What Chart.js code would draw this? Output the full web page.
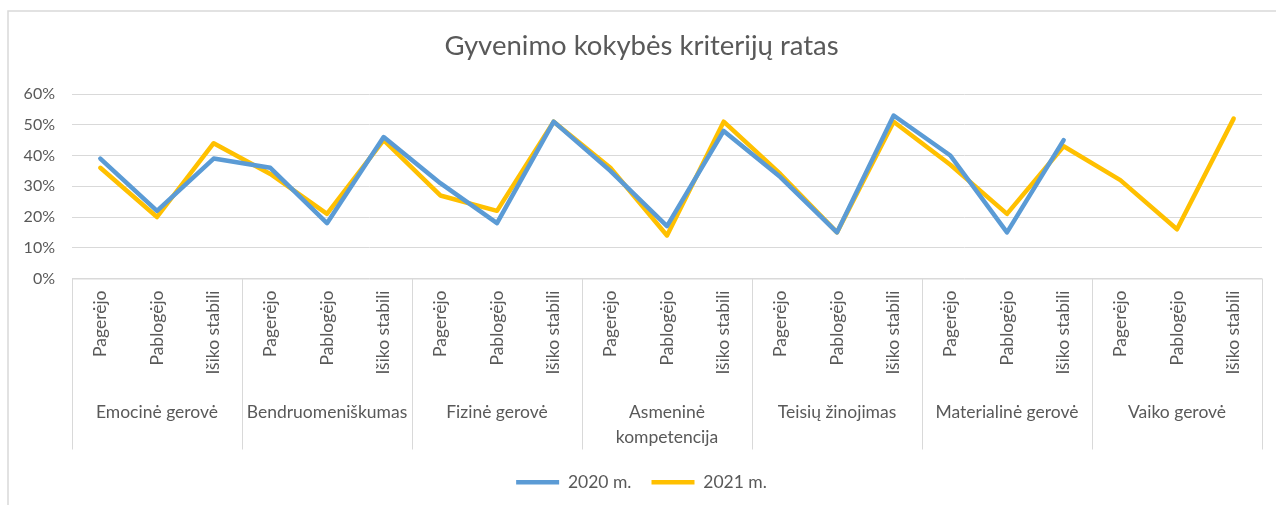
<!DOCTYPE html>
<html>
<head>
<meta charset="utf-8">
<script src="https://cdn.jsdelivr.net/npm/chart.js@4.4.1/dist/chart.umd.min.js"></script>
<style>
    body { margin: 0; background: #fff; }
    #wrap { position: relative; width: 1276px; height: 505px; }
</style>
</head>
<body>
<div id="wrap"><canvas id="chart" width="1276" height="505"></canvas></div>
<script>
// Category axis: groups and sub-categories
const groups = ['Emocinė gerovė', 'Bendruomeniškumas', 'Fizinė gerovė', 'Asmeninė kompetencija',
    'Teisių žinojimas', 'Materialinė gerovė', 'Vaiko gerovė'];
const subLabels = ['Pagerėjo', 'Pablogėjo', 'Išiko stabili'];

// Series values (%)
const values2020 = [39, 22, 39, 36, 18, 46, 31, 18, 51, 35, 17, 48, 33, 15, 53, 40, 15, 45, null, null, null];
const values2021 = [36, 20, 44, 34, 21, 45, 27, 22, 51, 36, 14, 51, 34, 15, 51, 37, 21, 43, 32, 16, 52];

// Y ticks
const yTicks = [0, 10, 20, 30, 40, 50, 60];

const FONT = 'Lato, "Open Sans", sans-serif';
const TEXT_COLOR = '#595959';
const LINE_COLOR = '#D9D9D9';

// Full list of category labels (21)
const labels = [];
groups.forEach(() => subLabels.forEach(s => labels.push(s)));

// Plugin: outer border, axis line, group separators and group labels
const multiLevelAxis = {
    id: 'multiLevelAxis',
    beforeDraw(chart) {
        const ctx = chart.ctx;
        ctx.save();
        ctx.strokeStyle = LINE_COLOR;
        ctx.lineWidth = 1.5;
        ctx.beginPath();
        ctx.moveTo(8, chart.height);
        ctx.lineTo(8, 11);
        ctx.lineTo(chart.width, 11);
        ctx.stroke();
        ctx.restore();
    },
    afterDraw(chart) {
        const ctx = chart.ctx;
        const x = chart.scales.x;
        const area = chart.chartArea;
        const step = (area.right - area.left) / groups.length;

        ctx.save();
        ctx.strokeStyle = LINE_COLOR;
        ctx.lineWidth = 1;
        ctx.beginPath();
        ctx.moveTo(area.left, area.bottom + 0.5);
        ctx.lineTo(area.right, area.bottom + 0.5);
        for (let g = 0; g <= groups.length; g++) {
            const px = Math.round(area.left + g * step) + 0.5;
            ctx.moveTo(px, area.bottom);
            ctx.lineTo(px, area.bottom + 171);
        }
        ctx.stroke();

        ctx.fillStyle = TEXT_COLOR;
        ctx.font = '17.5px ' + FONT;
        ctx.textAlign = 'center';
        ctx.textBaseline = 'middle';
        groups.forEach((name, g) => {
            const cx = (x.getPixelForValue(g * 3) + x.getPixelForValue(g * 3 + 2)) / 2;
            // wrap if too wide for the group cell
            const lines = [];
            const words = name.split(' ');
            let cur = '';
            words.forEach(w => {
                const test = cur ? cur + ' ' + w : w;
                if (ctx.measureText(test).width > step - 2 && cur) {
                    lines.push(cur);
                    cur = w;
                } else {
                    cur = test;
                }
            });
            lines.push(cur);
            lines.forEach((ln, i) => ctx.fillText(ln, cx, area.bottom + 134 + i * 25));
        });
        ctx.restore();
    }
};

const ctx = document.getElementById('chart').getContext('2d');
new Chart(ctx, {
    type: 'line',
    data: {
        labels: labels,
        datasets: [
            {
                label: '2020 m.',
                data: values2020,
                borderColor: '#5B9BD5',
                backgroundColor: '#5B9BD5',
                borderWidth: 4.5,
                borderCapStyle: 'round',
                borderJoinStyle: 'round',
                pointRadius: 0,
                tension: 0,
                spanGaps: false
            },
            {
                label: '2021 m.',
                data: values2021,
                borderColor: '#FFC000',
                backgroundColor: '#FFC000',
                borderWidth: 4.5,
                borderCapStyle: 'round',
                borderJoinStyle: 'round',
                pointRadius: 0,
                tension: 0
            }
        ]
    },
    options: {
        responsive: false,
        animation: false,
        layout: {
            padding: { top: 11, left: 21, right: 14, bottom: 4 }
        },
        plugins: {
            title: {
                display: true,
                text: 'Gyvenimo kokybės kriterijų ratas',
                color: TEXT_COLOR,
                font: { family: FONT, size: 27.5, weight: 'normal' },
                padding: { top: 19, bottom: 31 }
            },
            legend: {
                position: 'bottom',
                labels: {
                    usePointStyle: true,
                    pointStyle: 'line',
                    pointStyleWidth: 43,
                    color: TEXT_COLOR,
                    padding: 20,
                    font: { family: FONT, size: 17.5 }
                }
            },
            tooltip: { enabled: false }
        },
        scales: {
            y: {
                min: 0,
                max: 60,
                afterFit: (scale) => { scale.width = 51; },
                afterBuildTicks: (scale) => { scale.ticks = yTicks.map(v => ({ value: v })); },
                ticks: {
                    color: TEXT_COLOR,
                    padding: 17,
                    font: { family: FONT, size: 16 },
                    callback: (v) => v + '%'
                },
                grid: { color: LINE_COLOR, lineWidth: 1, drawTicks: false },
                border: { display: false }
            },
            x: {
                offset: true,
                afterFit: (scale) => { scale.height = 175; },
                ticks: {
                    color: TEXT_COLOR,
                    minRotation: 90,
                    maxRotation: 90,
                    autoSkip: false,
                    padding: 12,
                    font: { family: FONT, size: 17.5 }
                },
                grid: { display: false, drawTicks: false },
                border: { display: false }
            }
        }
    },
    plugins: [multiLevelAxis]
});
</script>
</body>
</html>
